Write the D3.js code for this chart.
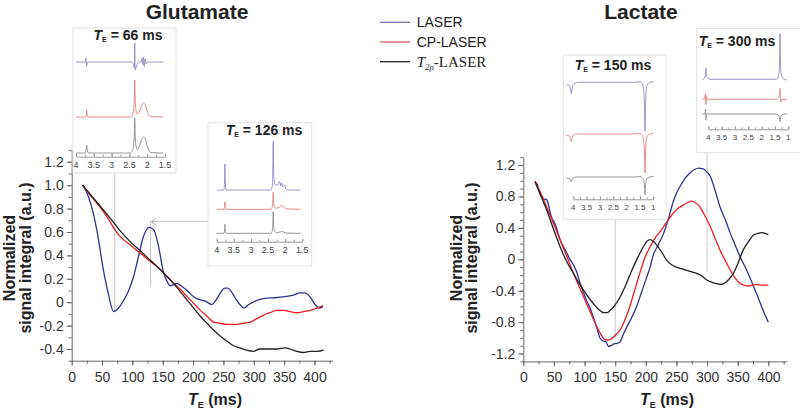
<!DOCTYPE html>
<html>
<head>
<meta charset="utf-8">
<script src="https://cdn.jsdelivr.net/npm/d3@7"></script>
<style>
body { margin: 0; background: #fff; }
svg { font-family: "Liberation Sans", Arial, sans-serif; }
</style>
</head>
<body>
<svg id="fig" width="800" height="409"></svg>
<script>
// ---- series names / legend
const seriesNames = ["LASER", "CP-LASER", "T2rho-LASER"];

// ---- Glutamate: [TE (ms), normalized signal integral]
const gluLaser = [[18,1.0],[27,0.91],[36,0.75],[44,0.54],[52,0.28],[60,0.08],[69,-0.08],[77,-0.05],[85,0.01],[93,0.09],[102,0.22],[110,0.39],[118,0.56],[128,0.64],[135,0.62],[143,0.48],[151,0.26],[157,0.18],[162,0.14],[168,0.15],[173,0.16],[180,0.14],[190,0.1],[200,0.05],[206,0.03],[220,0.01],[231,-0.02],[238,0.02],[245,0.08],[252,0.12],[257,0.12],[263,0.09],[269,0.04],[277,-0.02],[284,-0.05],[292,-0.02],[299,0.0],[308,0.02],[316,0.03],[338,0.04],[354,0.05],[365,0.06],[376,0.08],[384,0.08],[392,0.05],[401,-0.02],[407,-0.05],[414,-0.04]];
const gluCP = [[18,1.0],[30,0.92],[47,0.81],[63,0.69],[71,0.62],[80,0.56],[96,0.49],[113,0.42],[129,0.35],[146,0.28],[157,0.22],[168,0.16],[179,0.11],[190,0.05],[201,-0.01],[212,-0.07],[223,-0.12],[234,-0.17],[245,-0.18],[255,-0.19],[272,-0.19],[283,-0.18],[294,-0.17],[305,-0.14],[316,-0.11],[327,-0.09],[338,-0.07],[349,-0.07],[360,-0.08],[371,-0.09],[382,-0.08],[393,-0.07],[404,-0.05],[414,-0.03]];
const gluT2 = [[18,1.0],[47,0.82],[63,0.72],[80,0.61],[96,0.52],[113,0.44],[129,0.36],[146,0.28],[157,0.22],[168,0.16],[179,0.09],[190,0.02],[201,-0.05],[212,-0.12],[223,-0.18],[234,-0.24],[245,-0.29],[255,-0.33],[266,-0.37],[277,-0.39],[288,-0.41],[299,-0.42],[310,-0.40],[321,-0.40],[338,-0.40],[352,-0.39],[360,-0.40],[371,-0.42],[382,-0.43],[393,-0.42],[404,-0.42],[415,-0.41]];

// ---- Lactate
const lacLaser = [[19,0.99],[23,0.95],[27,0.84],[30,0.80],[33,0.77],[38,0.76],[41,0.70],[44,0.59],[47,0.52],[50,0.48],[55,0.38],[60,0.25],[65,0.17],[71,0.08],[76,0.0],[82,-0.07],[88,-0.18],[93,-0.31],[98,-0.42],[103,-0.52],[109,-0.62],[114,-0.73],[120,-0.87],[125,-1.0],[130,-1.04],[135,-1.05],[139,-1.11],[143,-1.10],[147,-1.08],[153,-1.07],[158,-1.05],[163,-0.96],[169,-0.86],[177,-0.74],[185,-0.60],[193,-0.42],[201,-0.24],[207,-0.10],[212,0.05],[220,0.18],[229,0.33],[237,0.52],[245,0.74],[250,0.84],[256,0.93],[264,1.03],[272,1.10],[279,1.14],[286,1.16],[294,1.15],[300,1.11],[305,1.06],[313,0.88],[321,0.67],[330,0.50],[338,0.33],[346,0.18],[354,0.03],[361,-0.08],[367,-0.18],[372,-0.27],[376,-0.35],[382,-0.46],[387,-0.56],[393,-0.68],[400,-0.80]];
const lacCP = [[19,0.99],[28,0.85],[38,0.67],[49,0.46],[60,0.25],[71,0.04],[82,-0.18],[93,-0.38],[103,-0.56],[112,-0.72],[120,-0.86],[127,-0.96],[133,-1.02],[139,-1.03],[144,-1.01],[151,-0.96],[158,-0.90],[166,-0.77],[174,-0.60],[182,-0.39],[190,-0.18],[198,0.01],[207,0.16],[215,0.27],[223,0.35],[234,0.47],[245,0.59],[253,0.65],[261,0.69],[268,0.72],[275,0.74],[281,0.72],[288,0.67],[296,0.56],[305,0.42],[313,0.27],[321,0.12],[330,-0.02],[338,-0.14],[346,-0.24],[354,-0.31],[361,-0.33],[367,-0.34],[374,-0.33],[381,-0.32],[390,-0.33],[400,-0.33]];
const lacT2 = [[19,0.99],[28,0.82],[38,0.63],[49,0.39],[60,0.16],[71,-0.03],[82,-0.18],[90,-0.29],[98,-0.39],[106,-0.48],[114,-0.56],[122,-0.63],[131,-0.68],[136,-0.68],[142,-0.65],[150,-0.58],[158,-0.48],[166,-0.35],[173,-0.22],[180,-0.09],[188,0.04],[196,0.16],[202,0.23],[207,0.25],[212,0.23],[218,0.18],[226,0.09],[234,-0.01],[242,-0.07],[250,-0.10],[258,-0.12],[267,-0.14],[275,-0.16],[283,-0.18],[291,-0.21],[299,-0.26],[307,-0.29],[316,-0.31],[322,-0.32],[327,-0.31],[335,-0.26],[343,-0.18],[351,-0.04],[359,0.12],[367,0.22],[376,0.31],[383,0.33],[389,0.34],[395,0.33],[400,0.31]];

// ---- axis ticks
const xTicks = [0, 50, 100, 150, 200, 250, 300, 350, 400];
const gluYTicks = [-0.4, -0.2, 0, 0.2, 0.4, 0.6, 0.8, 1.0, 1.2];
const gluYLabels = ["-0.4", "-0.2", "0", "0.2", "0.4", "0.6", "0.8", "1.0", "1.2"];
const lacYTicks = [-1.2, -0.8, -0.4, 0, 0.4, 0.8, 1.2];
const lacYLabels = ["-1.2", "-0.8", "-0.4", "0", "0.4", "0.8", "1.2"];
const ppmTicksGlu = [4, 3.5, 3, 2.5, 2, 1.5];
const ppmTicksLac = [4, 3.5, 3, 2.5, 2, 1.5, 1];

// ---- inset spectra: [ppm, amplitude]
const spec66Laser = [[4.0,0],[3.74,0],[3.72,0.4],[3.70,-0.4],[3.68,0],[2.45,0],[2.39,-0.2],[2.36,-0.6],[2.35,1.9],[2.34,-0.8],[2.31,-0.5],[2.27,-0.1],[2.22,0],[2.16,0],[2.14,0.4],[2.12,-0.3],[2.10,0.5],[2.08,-0.5],[2.06,0.3],[2.03,-0.2],[1.98,0],[1.55,0]];
const spec66CP = [[4.0,0],[3.73,0],[3.71,0.3],[3.70,0.7],[3.69,0.3],[3.67,0],[2.48,0],[2.42,0.2],[2.38,0.8],[2.36,2.2],[2.35,3.7],[2.34,2.2],[2.32,0.8],[2.28,0.3],[2.24,0.4],[2.19,0.8],[2.14,1.25],[2.10,1.4],[2.06,1.25],[2.01,0.7],[1.96,0.25],[1.90,0.05],[1.55,0]];
const spec66T2 = [[4.0,0],[3.74,0],[3.72,0.35],[3.70,0.8],[3.68,0.35],[3.66,0],[2.48,0],[2.42,0.2],[2.38,0.8],[2.36,2.1],[2.35,3.5],[2.34,2.1],[2.32,0.8],[2.28,0.35],[2.24,0.5],[2.19,1.0],[2.14,1.45],[2.10,1.6],[2.06,1.45],[2.01,0.8],[1.96,0.3],[1.90,0.05],[1.55,0]];
const spec126Laser = [[4.0,0],[3.79,0],[3.77,1.0],[3.76,2.6],[3.75,1.0],[3.73,0],[2.42,0],[2.37,0.6],[2.36,2.5],[2.35,4.9],[2.34,2.5],[2.32,0.9],[2.28,0.5],[2.22,0.5],[2.19,0.7],[2.16,0.85],[2.13,0.4],[2.10,0.7],[2.07,0.3],[2.04,0.35],[2.01,0.5],[1.98,0.1],[1.94,0],[1.55,0]];
const spec126CP = [[4.0,0],[3.79,0],[3.77,0.3],[3.76,0.75],[3.75,0.3],[3.73,0],[2.42,0],[2.37,0.3],[2.36,0.9],[2.35,1.7],[2.34,0.9],[2.32,0.3],[2.26,0.1],[2.18,0.2],[2.12,0.33],[2.08,0.36],[2.03,0.2],[1.96,0.05],[1.55,0]];
const spec126T2 = [[4.0,0],[3.79,0],[3.77,0.35],[3.76,0.9],[3.75,0.35],[3.73,0],[2.42,0],[2.37,0.3],[2.36,1.1],[2.35,2.15],[2.34,1.1],[2.32,0.3],[2.26,0.05],[2.18,0.1],[2.10,0.18],[2.05,0.12],[1.96,0.02],[1.55,0]];
const spec150Laser = [[4.25,-0.25],[4.2,-0.2],[4.14,-0.35],[4.10,-0.8],[4.08,-1.1],[4.06,-0.8],[4.02,-0.3],[3.95,-0.1],[3.8,0],[1.7,0],[1.5,0.05],[1.42,-0.1],[1.37,-0.6],[1.33,-2.5],[1.31,-4.9],[1.29,-2.5],[1.26,-0.6],[1.2,-0.15],[1.1,0.02],[1.0,0.05]];
const spec150CP = [[4.25,-0.15],[4.14,-0.2],[4.10,-0.55],[4.08,-0.77],[4.06,-0.55],[4.02,-0.2],[3.9,0],[1.7,0],[1.5,0.05],[1.42,-0.1],[1.37,-0.5],[1.33,-2.0],[1.31,-3.9],[1.29,-2.0],[1.26,-0.5],[1.2,-0.1],[1.1,0.02],[1.0,0.05]];
const spec150T2 = [[4.25,-0.1],[4.14,-0.15],[4.10,-0.35],[4.08,-0.47],[4.06,-0.35],[4.02,-0.1],[3.9,0],[1.7,0],[1.5,0.05],[1.42,-0.05],[1.37,-0.3],[1.33,-0.9],[1.31,-1.8],[1.29,-0.9],[1.26,-0.3],[1.2,-0.05],[1.1,0.02],[1.0,0.05]];
const spec300Laser = [[4.22,0],[4.15,0.1],[4.11,0.5],[4.09,1.1],[4.07,0.5],[4.02,0.1],[3.9,0],[1.5,0],[1.4,0.1],[1.35,0.6],[1.32,2.5],[1.31,4.6],[1.30,2.5],[1.27,0.6],[1.2,0.1],[1.1,-0.05],[1.05,0]];
const spec300CP = [[4.22,0],[4.14,0.1],[4.11,0.5],[4.09,-0.5],[4.07,0.3],[4.03,-0.1],[3.95,0],[1.5,0],[1.4,0.1],[1.34,0.4],[1.32,0.8],[1.31,1.1],[1.30,0.3],[1.28,-0.3],[1.25,0],[1.05,0]];
const spec300T2 = [[4.22,0],[4.12,0],[4.10,0.5],[4.09,-0.6],[4.07,0],[3.95,0],[1.5,0],[1.4,-0.05],[1.35,-0.2],[1.32,-0.5],[1.31,-0.77],[1.30,-0.5],[1.27,-0.2],[1.2,-0.05],[1.05,0]];

// ---- annotation marks: [TE, value]
const gluMark66 = [71, -0.08];
const gluMark126 = [130, 0.69, 0.13];
const lacMark150 = [150, -1.0];
const lacMark300 = [300, -0.16];

const lineColors = ["#2e3192", "#ed1c24", "#231f20"];
const specColors = ["#8a8ac4", "#e57a7a", "#8a8a8a"];
const legendColors = ["#6a6ab0", "#e04a55", "#111"];

const svg = d3.select("#fig");

function styleAxis(g, fs) {
    g.attr("font-family", null).attr("font-size", fs);
    g.select(".domain").attr("stroke", "#666");
    g.selectAll(".tick line").attr("stroke", "#666");
    g.selectAll(".tick text").attr("fill", "#333");
}

function drawPanel(cfg) {
    const g = svg.append("g");
    const x = d3.scaleLinear().domain([0, 430]).range(cfg.xRange);
    const y = d3.scaleLinear().domain(cfg.yDomain).range(cfg.yRange);

    // minor ticks
    const xMinor = d3.range(0, 430, 25);
    const yMinor = d3.range(Math.round(cfg.yDomain[0] * 10), Math.round(cfg.yDomain[1] * 10) + 1).map(d => d / 10);
    g.append("g").attr("transform", `translate(0,${cfg.yRange[0]})`)
        .call(d3.axisBottom(x).tickValues(xMinor).tickSize(3).tickFormat(""))
        .call(a => { styleAxis(a, 14); a.select(".domain").remove(); });
    g.append("g").attr("transform", `translate(${cfg.xRange[0]},0)`)
        .call(d3.axisLeft(y).tickValues(yMinor).tickSize(3).tickFormat(""))
        .call(a => { styleAxis(a, 14); a.select(".domain").remove(); });

    // major axes
    g.append("g").attr("transform", `translate(0,${cfg.yRange[0]})`)
        .call(d3.axisBottom(x).tickValues(xTicks).tickSize(5).tickPadding(6).tickSizeOuter(0))
        .call(a => styleAxis(a, 14));
    g.append("g").attr("transform", `translate(${cfg.xRange[0]},0)`)
        .call(d3.axisLeft(y).tickValues(cfg.yTicks).tickSize(5).tickPadding(3).tickSizeOuter(0)
            .tickFormat((d, i) => cfg.yLabels[i]))
        .call(a => styleAxis(a, 14));

    // annotation lines
    cfg.marks(g, x, y);

    // data lines
    const line = d3.line().x(d => x(d[0])).y(d => y(d[1])).curve(d3.curveMonotoneX);
    cfg.series.forEach((s, i) => {
        g.append("path").datum(s)
            .attr("d", line)
            .attr("fill", "none")
            .attr("stroke", lineColors[i])
            .attr("stroke-width", 1.3);
    });

    // titles
    svg.append("text").attr("x", cfg.title[1]).attr("y", 18.5)
        .attr("text-anchor", "middle").attr("font-size", 21).attr("font-weight", "bold")
        .attr("fill", "#222").text(cfg.title[0]);
    const yt = svg.append("g").attr("font-size", 16).attr("font-weight", "bold").attr("fill", "#222");
    yt.append("text").attr("transform", `translate(${cfg.yTitleX[0]},258) rotate(-90)`)
        .attr("text-anchor", "middle").text("Normalized");
    yt.append("text").attr("transform", `translate(${cfg.yTitleX[1]},258) rotate(-90)`)
        .attr("text-anchor", "middle").text("signal integral (a.u.)");
    const xt = svg.append("text").attr("x", cfg.xTitleX).attr("y", 405)
        .attr("text-anchor", "middle").attr("font-size", 16).attr("font-weight", "bold").attr("fill", "#222");
    xt.append("tspan").attr("font-style", "italic").text("T");
    xt.append("tspan").attr("font-size", 9).attr("dy", 3).text("E");
    xt.append("tspan").attr("dy", -3).text(" (ms)");
}

function insetTitle(g, cx, by, te) {
    const t = g.append("text").attr("x", cx).attr("y", by).attr("text-anchor", "middle")
        .attr("font-size", 14).attr("font-weight", "bold").attr("fill", "#222");
    t.append("tspan").attr("font-style", "italic").text("T");
    t.append("tspan").attr("font-size", 7).attr("dy", 2).text("E");
    t.append("tspan").attr("dy", -2).text(` = ${te} ms`);
}

function drawInset(cfg) {
    const g = svg.append("g");
    const b = cfg.box;
    g.append("rect").attr("x", b[0]).attr("y", b[1]).attr("width", b[2]).attr("height", b[3])
        .attr("fill", "#fff").attr("stroke", "#e2e2e2").attr("stroke-width", 1);
    insetTitle(g, cfg.titlePos[0], cfg.titlePos[1], cfg.te);

    const x = d3.scaleLinear().domain(cfg.ppmDomain).range(cfg.ppmRange);
    const amp = d3.scaleLinear().domain([0, 1]).range([0, -10]);

    const ticks = cfg.ppmTicks;
    const minor = d3.range(Math.round(cfg.ppmDomain[1] * 4), Math.round(cfg.ppmDomain[0] * 4) + 1).map(d => d / 4);
    g.append("g").attr("transform", `translate(0,${cfg.axisY})`)
        .call(d3.axisTop(x).tickValues(minor).tickSize(2).tickFormat("").tickSizeOuter(0))
        .call(a => { a.select(".domain").attr("stroke", "#999"); a.selectAll(".tick line").attr("stroke", "#999"); });
    g.append("g").attr("transform", `translate(0,${cfg.axisY})`)
        .call(d3.axisTop(x).tickValues(ticks).tickSize(3).tickFormat(""))
        .call(a => { a.select(".domain").remove(); a.selectAll(".tick line").attr("stroke", "#999"); });
    g.selectAll("text.ppm").data(ticks).join("text").attr("class", "ppm")
        .attr("x", d => x(d)).attr("y", cfg.axisY + 11)
        .attr("text-anchor", "middle").attr("font-size", cfg.labelSize).attr("fill", "#444")
        .text(d => d);

    cfg.spectra.forEach((s, i) => {
        const line = d3.line().x(d => x(d[0])).y(d => cfg.baselines[i] + amp(d[1])).curve(d3.curveMonotoneX);
        g.append("path").datum(s).attr("d", line)
            .attr("fill", "none").attr("stroke", specColors[i]).attr("stroke-width", 0.9);
    });
}

const grey = "#c4c4c4";

// ---- Glutamate panel
drawPanel({
    xRange: [71.7, 332.7], yDomain: [-0.5, 1.3], yRange: [360.7, 150.1],
    yTicks: gluYTicks, yLabels: gluYLabels,
    series: [gluLaser, gluCP, gluT2],
    title: ["Glutamate", 197], yTitleX: [15, 30.5], xTitleX: 215,
    marks: (g, x, y) => {
        g.append("line").attr("x1", x(gluMark66[0])).attr("x2", x(gluMark66[0]))
            .attr("y1", 173).attr("y2", y(gluMark66[1])).attr("stroke", grey);
        g.append("line").attr("x1", x(gluMark126[0])).attr("x2", x(gluMark126[0]))
            .attr("y1", y(gluMark126[1])).attr("y2", y(gluMark126[2])).attr("stroke", grey);
        g.append("line").attr("x1", x(gluMark126[0])).attr("x2", 208)
            .attr("y1", y(gluMark126[1])).attr("y2", y(gluMark126[1])).attr("stroke", grey);
        const ax = x(gluMark126[0]) + 1, ay = y(gluMark126[1]);
        g.append("path").attr("d", `M${ax + 4},${ay - 3.5}L${ax},${ay}L${ax + 4},${ay + 3.5}`)
            .attr("fill", "none").attr("stroke", "#999");
    }
});

// ---- Lactate panel
drawPanel({
    xRange: [523.3, 786.7], yDomain: [-1.3, 1.3], yRange: [361.4, 157.2],
    yTicks: lacYTicks, yLabels: lacYLabels,
    series: [lacLaser, lacCP, lacT2],
    title: ["Lactate", 641], yTitleX: [462, 477], xTitleX: 667,
    marks: (g, x, y) => {
        g.append("line").attr("x1", x(lacMark150[0])).attr("x2", x(lacMark150[0]))
            .attr("y1", 219).attr("y2", y(lacMark150[1])).attr("stroke", grey);
        g.append("line").attr("x1", x(lacMark300[0])).attr("x2", x(lacMark300[0]))
            .attr("y1", 152).attr("y2", y(lacMark300[1])).attr("stroke", grey);
    }
});

// ---- insets
drawInset({ te: 66, box: [73, 28, 103, 145], titlePos: [128, 40],
    ppmDomain: [4, 1.5], ppmRange: [76, 165], ppmTicks: ppmTicksGlu, axisY: 156.7, labelSize: 9,
    baselines: [62, 117, 153], spectra: [spec66Laser, spec66CP, spec66T2] });
drawInset({ te: 126, box: [208, 122.7, 103.7, 143.3], titlePos: [264, 135],
    ppmDomain: [4, 1.5], ppmRange: [216.7, 302.3], ppmTicks: ppmTicksGlu, axisY: 241.7, labelSize: 9,
    baselines: [190, 209.3, 233.3], spectra: [spec126Laser, spec126CP, spec126T2] });
drawInset({ te: 150, box: [563.3, 55, 102.7, 164.3], titlePos: [613, 70],
    ppmDomain: [4, 1], ppmRange: [573.3, 653.3], ppmTicks: ppmTicksLac, axisY: 199.3, labelSize: 8,
    baselines: [82.3, 134, 177], spectra: [spec150Laser, spec150CP, spec150T2] });
drawInset({ te: 300, box: [696.7, 28.3, 110, 124.4], titlePos: [737, 46],
    ppmDomain: [4, 1], ppmRange: [708.3, 788.3], ppmTicks: ppmTicksLac, axisY: 129.3, labelSize: 8,
    baselines: [79.3, 99.3, 114], spectra: [spec300Laser, spec300CP, spec300T2] });

// ---- legend
const legend = svg.append("g");
seriesNames.forEach((name, i) => {
    const ly = 22.3 + i * 19.7;
    legend.append("line").attr("x1", 380).attr("x2", 410).attr("y1", ly).attr("y2", ly)
        .attr("stroke", legendColors[i]).attr("stroke-width", 1.2);
    const t = legend.append("text").attr("x", 416.7).attr("y", ly + 5).attr("fill", "#222");
    if (i < 2) {
        t.attr("font-size", 14).text(name);
    } else {
        t.attr("font-family", "'Liberation Serif', 'Times New Roman', serif").attr("font-size", 15);
        t.append("tspan").attr("font-style", "italic").text("T");
        t.append("tspan").attr("font-style", "italic").attr("font-size", 9).attr("dy", 3).text("2ρ");
        t.append("tspan").attr("dy", -3).text("-LASER");
    }
});
</script>
</body>
</html>
